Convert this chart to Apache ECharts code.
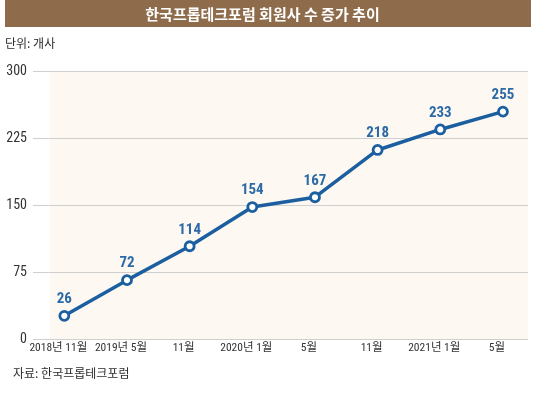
<!DOCTYPE html>
<html><head><meta charset="utf-8">
<script src="https://cdn.jsdelivr.net/npm/echarts@6/dist/echarts.min.js"></script>
<style>html,body{margin:0;padding:0;background:#fff}#c{width:536px;height:400px}</style>
</head><body><div id="c"></div>
<script>
const categories = ['2018년 11월', '2019년 5월', '11월', '2020년 1월', '5월', '11월', '2021년 1월', '5월'];
// plotted heights
const plottedValues = [26, 66, 104, 148, 159, 212, 235, 255];
// numbers printed above the markers
const valueLabels = ['26', '72', '114', '154', '167', '218', '233', '255'];
const yTicks = [0, 75, 150, 225, 300];

const NARROW = "'Roboto Condensed', 'Noto Sans CJK KR', sans-serif";
const KR = "'Noto Sans CJK KR', sans-serif";

const chart = echarts.init(document.getElementById('c'), null, {renderer: 'canvas'});
chart.setOption({
  animation: false,
  backgroundColor: '#ffffff',
  grid: {left: 33, right: 8, top: 71.5, bottom: 61, containLabel: false},
  graphic: [
    {type: 'rect', z: -10, shape: {x: 5, y: 0, width: 526, height: 27}, style: {fill: '#8e6b4b'}},
    {type: 'text', z: 10, x: 262.5, y: 14, style: {text: '한국프롭테크포럼 회원사 수 증가 추이', fill: '#ffffff', font: 'bold 15px ' + KR, textAlign: 'center', textVerticalAlign: 'middle'}},
    {type: 'text', x: 5, y: 43, style: {text: '단위: 개사', fill: '#2b2b2b', font: '12px ' + KR, textVerticalAlign: 'middle'}},
    {type: 'text', x: 13, y: 373, style: {text: '자료: 한국프롭테크포럼', fill: '#2b2b2b', font: '12px ' + KR, textVerticalAlign: 'middle'}},
    {type: 'rect', z: -5, shape: {x: 50, y: 71.5, width: 478, height: 267.5}, style: {fill: '#fdf8f1'}}
  ],
  xAxis: {
    type: 'value', min: -0.5, max: 7.4,
    axisLine: {show: false}, axisTick: {show: false}, splitLine: {show: false},
    axisLabel: {
      customValues: categories.map((c, i) => i),
      formatter: v => categories[Math.round(v)] || '',
      showMinLabel: true, showMaxLabel: true, hideOverlap: false,
      color: '#333333', fontSize: 11.5, fontFamily: NARROW, margin: 3,
      padding: [0, 12, 0, 0]
    }
  },
  yAxis: {
    type: 'value', min: 0, max: 300, interval: 75,
    axisLine: {show: false}, axisTick: {show: false},
    splitLine: {lineStyle: {color: '#cfcfcf', width: 1}},
    axisLabel: {color: '#333333', fontSize: 14, fontFamily: NARROW, margin: 6,
      showMinLabel: true, customValues: yTicks}
  },
  series: [{
    type: 'line',
    data: plottedValues.map((v, i) => [i, v]),
    lineStyle: {color: '#1c5fa0', width: 3.5},
    symbol: 'circle', symbolSize: 9,
    itemStyle: {color: '#ffffff', borderColor: '#1c5fa0', borderWidth: 2.8},
    label: {
      show: true, position: 'top', distance: 3,
      formatter: p => valueLabels[p.dataIndex],
      color: '#2b6aa6', fontSize: 15, fontWeight: 'bold', fontFamily: NARROW
    },
    z: 5
  }]
});
</script></body></html>
